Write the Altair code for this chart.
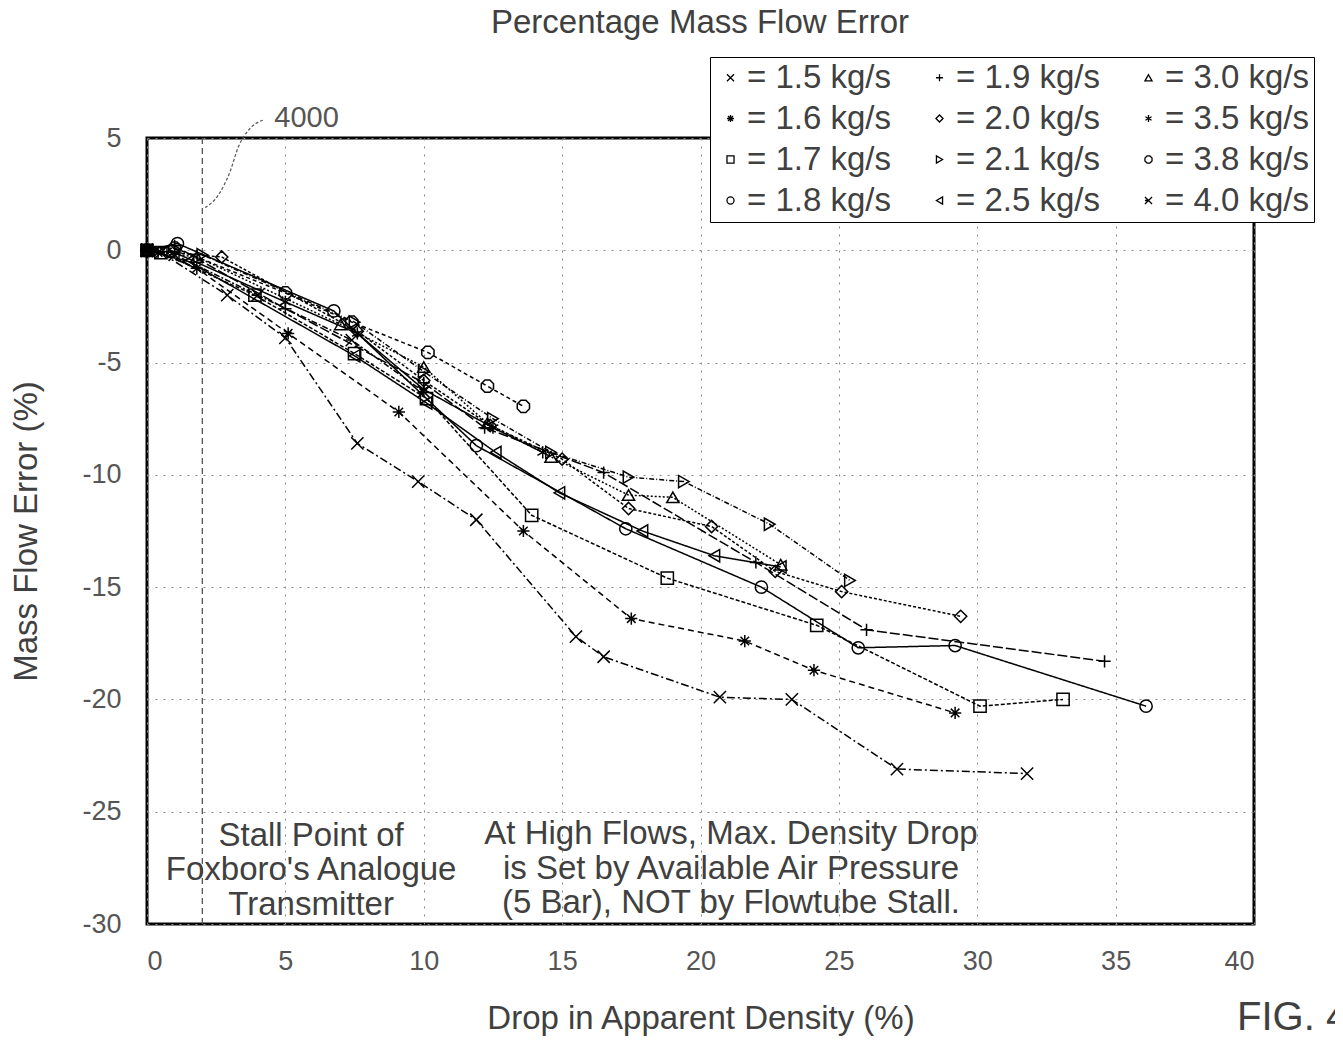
import altair as alt
import pandas as pd

FONT = "Liberation Sans"

# ---- data ----
series_names = ["1.5 kg/s", "1.6 kg/s", "1.7 kg/s", "1.8 kg/s", "1.9 kg/s", "2.0 kg/s",
                "2.1 kg/s", "2.5 kg/s", "3.0 kg/s", "3.5 kg/s", "3.8 kg/s", "4.0 kg/s"]

x15 = [0, 0.5, 2.9, 5.0, 7.6, 9.8, 11.9, 15.5, 16.5, 20.7, 23.3, 27.1, 31.8]
y15 = [0, -0.1, -2.0, -3.9, -8.6, -10.3, -12.0, -17.2, -18.1, -19.9, -20.0, -23.1, -23.3]
x16 = [0, 0.4, 1.8, 5.1, 9.1, 13.6, 17.5, 21.6, 24.1, 29.2]
y16 = [0, -0.1, -0.8, -3.7, -7.2, -12.5, -16.4, -17.4, -18.7, -20.6]
x17 = [0, 0.5, 3.9, 7.5, 10.1, 13.9, 18.8, 24.2, 30.1, 33.1]
y17 = [0, -0.1, -2.0, -4.6, -6.6, -11.8, -14.6, -16.7, -20.3, -20.0]
x18 = [0, 1.1, 6.75, 11.9, 17.3, 22.2, 25.7, 29.2, 36.1]
y18 = [0, 0.3, -2.7, -8.7, -12.4, -15.0, -17.7, -17.6, -20.3]
x19 = [0, 1.0, 5.0, 10.0, 12.2, 16.5, 22.0, 26.0, 34.6]
y19 = [0, 0.2, -2.6, -5.9, -7.9, -9.9, -13.9, -16.9, -18.3]
x20 = [0, 2.7, 7.6, 10.0, 12.4, 15.0, 17.4, 20.4, 22.7, 25.1, 29.4]
y20 = [0, -0.3, -3.6, -5.8, -7.8, -9.3, -11.5, -12.3, -14.3, -15.2, -16.3]
x21 = [0, 2.0, 7.5, 10.0, 12.5, 14.6, 17.4, 19.4, 22.5, 25.4]
y21 = [0, -0.2, -3.2, -5.4, -7.5, -9.0, -10.1, -10.3, -12.2, -14.7]
x25 = [0, 1.5, 7.5, 10.1, 12.6, 14.9, 17.9, 20.5, 22.9]
y25 = [0, -0.5, -4.7, -6.8, -9.0, -10.8, -12.5, -13.6, -14.1]
x30 = [0, 1.8, 7.0, 10.0, 12.3, 14.6, 17.4, 19.0, 22.9]
y30 = [0, -0.3, -3.3, -5.2, -7.7, -9.2, -10.9, -11.0, -14.0]
x35 = [0, 1.0, 5.0, 7.6, 10.0, 12.5, 14.3]
y35 = [0, -0.1, -2.3, -3.7, -6.2, -7.9, -9.0]
x38 = [0, 1.0, 5.0, 7.4, 10.15, 12.3, 13.6]
y38 = [0, 0.1, -1.9, -3.2, -4.55, -6.05, -6.95]
x40 = [0, 1.0, 4.0, 7.4, 10.0]
y40 = [0, -0.2, -2.0, -4.0, -6.3]

xs = [x15, x16, x17, x18, x19, x20, x21, x25, x30, x35, x38, x40]
ys = [y15, y16, y17, y18, y19, y20, y21, y25, y30, y35, y38, y40]

x_ticks = [0, 5, 10, 15, 20, 25, 30, 35, 40]
y_ticks = [-30, -25, -20, -15, -10, -5, 0, 5]

stall_x = [2]
leader_x = [2.1, 2.6, 3.0, 3.3, 3.7, 4.2]
leader_y = [1.9, 2.5, 3.5, 4.6, 5.4, 5.8]

rows = []
for name, xv, yv in zip(series_names, xs, ys):
    for i, (a, b) in enumerate(zip(xv, yv)):
        rows.append({"series": name, "dash": "d" + name, "x": a, "y": b, "order": i})
df = pd.DataFrame(rows)

shape_map = {
    "1.5 kg/s": "M-1,-1L1,1M-1,1L1,-1",
    "1.6 kg/s": "M0,-1L0,1M-1,0L1,0M-0.7,-0.7L0.7,0.7M-0.7,0.7L0.7,-0.7",
    "1.7 kg/s": "square",
    "1.8 kg/s": "circle",
    "1.9 kg/s": "M-1,0L1,0M0,-1L0,1",
    "2.0 kg/s": "diamond",
    "2.1 kg/s": "triangle-right",
    "2.5 kg/s": "triangle-left",
    "3.0 kg/s": "triangle-up",
    "3.5 kg/s": "M0,-1L0,1M-0.87,-0.5L0.87,0.5M-0.87,0.5L0.87,-0.5",
    "3.8 kg/s": "M-0.4,-1L0.4,-1L1,-0.4L1,0.4L0.4,1L-0.4,1L-1,0.4L-1,-0.4Z",
    "4.0 kg/s": "M-1,-1L1,1M-1,1L1,-1M-1,0L0,0",
}
dash_map = {
    "1.5 kg/s": [8, 3, 2, 3], "1.6 kg/s": [6, 4], "1.7 kg/s": [4, 2],
    "1.8 kg/s": [1, 0], "1.9 kg/s": [10, 3], "2.0 kg/s": [3, 2],
    "2.1 kg/s": [5, 2, 1, 2], "2.5 kg/s": [1, 0], "3.0 kg/s": [2, 2],
    "3.5 kg/s": [1, 0], "3.8 kg/s": [4, 3], "4.0 kg/s": [6, 2, 2, 2],
}

xscale = alt.Scale(domain=[0, 40], nice=False, zero=False)
yscale = alt.Scale(domain=[-30, 5], nice=False, zero=False)

TXT = "#404040"
base = alt.Chart(df)

lines = base.mark_line(color="black", strokeWidth=1.5).encode(
    x=alt.X("x:Q", scale=xscale,
            axis=alt.Axis(values=x_ticks, title="Drop in Apparent Density (%)",
                          grid=True, gridDash=[2, 6], gridColor="#888",
                          ticks=False, domain=False, labelPadding=24,
                          labelExpr="toString(datum.value)",
                          labelFontSize=27, labelColor="#555", labelFont=FONT,
                          titleFontSize=33, titleColor=TXT, titleFont=FONT,
                          titleFontWeight="normal", titleY=94, titleBaseline="middle")),
    y=alt.Y("y:Q", scale=yscale,
            axis=alt.Axis(values=y_ticks, title="Mass Flow Error (%)",
                          grid=True, gridDash=[2, 6], gridColor="#888",
                          ticks=False, domain=False, labelPadding=26,
                          labelExpr="toString(datum.value)",
                          labelFontSize=27, labelColor="#555", labelFont=FONT,
                          titleFontSize=33, titleColor=TXT, titleFont=FONT,
                          titleFontWeight="normal", titleX=-121, titleY=393,
                          titleBaseline="middle")),
    detail="series:N",
    order="order:Q",
    strokeDash=alt.StrokeDash("dash:N", legend=None,
                              scale=alt.Scale(domain=["d" + k for k in dash_map.keys()],
                                              range=list(dash_map.values()))),
)

points = base.mark_point(color="black", filled=False, strokeWidth=1.5, size=150, opacity=1).encode(
    x=alt.X("x:Q", scale=xscale),
    y=alt.Y("y:Q", scale=yscale),
    shape=alt.Shape("series:N",
                    scale=alt.Scale(domain=series_names,
                                    range=[shape_map[k] for k in series_names]),
                    legend=alt.Legend(title=None, orient="none", legendX=563, legendY=-81,
                                      columns=3, columnPadding=31, rowPadding=7,
                                      symbolSize=50, symbolStrokeWidth=1.3,
                                      symbolStrokeColor="black", symbolFillColor="white",
                                      labelFontSize=33, labelFont=FONT, labelColor=TXT,
                                      labelExpr="'= ' + datum.label", labelOffset=0,
                                      padding=4, strokeColor="black", fillColor="white",
                                      labelLimit=400)),
)

stall = alt.Chart(pd.DataFrame({"x": stall_x})).mark_rule(
    color="#555", strokeDash=[6, 4], strokeWidth=1.3).encode(x=alt.X("x:Q", scale=xscale))

leader = alt.Chart(pd.DataFrame({"x": leader_x, "y": leader_y})).mark_line(
    color="#555", strokeDash=[3, 2], strokeWidth=1.2, interpolate="monotone").encode(
    x=alt.X("x:Q", scale=xscale), y=alt.Y("y:Q", scale=yscale))

label4000 = alt.Chart(pd.DataFrame({"x": [4.6], "y": [5.9], "t": ["4000"]})).mark_text(
    align="left", baseline="middle", fontSize=29, font=FONT, color="#555").encode(
    x=alt.X("x:Q", scale=xscale), y=alt.Y("y:Q", scale=yscale), text="t:N")

notes = pd.DataFrame({
    "x": [5.93, 21.1],
    "y": [-25.35, -25.3],
    "t": ["Stall Point of\nFoxboro's Analogue\nTransmitter",
          "At High Flows, Max. Density Drop\nis Set by Available Air Pressure\n(5 Bar), NOT by Flowtube Stall."],
})
note_text = alt.Chart(notes).mark_text(
    align="center", baseline="top", fontSize=33, font=FONT, color=TXT,
    lineBreak="\n", lineHeight=34.5).encode(
    x=alt.X("x:Q", scale=xscale), y=alt.Y("y:Q", scale=yscale), text="t:N")

title = alt.Chart(pd.DataFrame({"t": ["Percentage Mass Flow Error"]})).mark_text(
    align="center", baseline="middle", fontSize=33, font=FONT, color=TXT).encode(
    x=alt.value(553), y=alt.value(-115), text="t:N")

fig = alt.Chart(pd.DataFrame({"t": ["FIG. 4"]})).mark_text(
    align="left", baseline="middle", fontSize=40, font=FONT, color=TXT).encode(
    x=alt.value(1090), y=alt.value(880), text="t:N")

chart = alt.layer(stall, lines, points, leader, label4000, note_text, title, fig).properties(
    width=1107, height=786,
    background="white",
    autosize=alt.AutoSizeParams(type="none"),
    padding={"left": 139, "top": 130, "right": 81, "bottom": 113},
).configure_view(stroke="black", strokeWidth=3)

chart.save("out.html", embed_options={"renderer": "svg", "actions": False})
